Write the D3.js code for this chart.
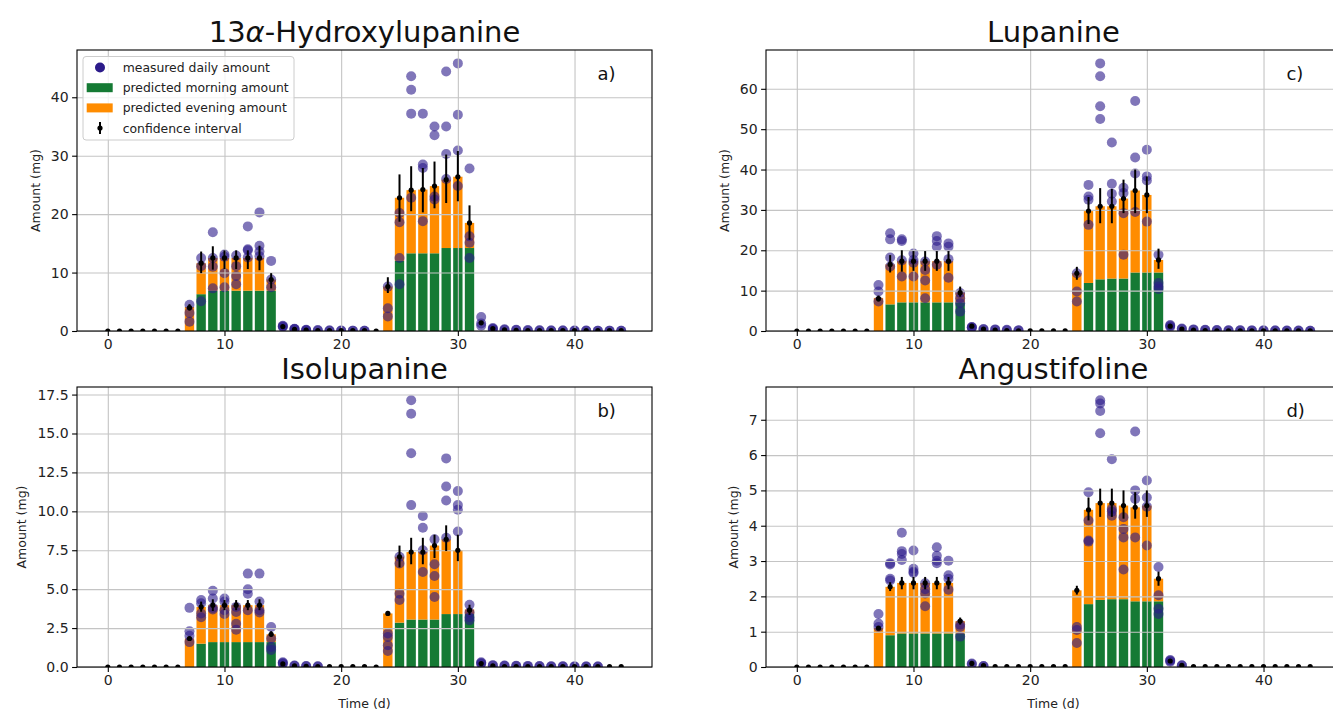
<!DOCTYPE html>
<html>
<head>
<meta charset="utf-8">
<script src="https://cdn.jsdelivr.net/npm/d3@7"></script>
<style>
body { margin: 0; background: #fff; }
text { font-family: "DejaVu Sans", sans-serif; }
</style>
</head>
<body>
<svg width="1333" height="713"></svg>
<script>
var days = d3.range(45);
var xTicks = [0, 10, 20, 30, 40];
var legendLabels = ["measured daily amount", "predicted morning amount", "predicted evening amount", "confidence interval"];

// 13a-Hydroxylupanine
var morningA = [0,0,0,0,0,0,0,0,6.3,6.9,6.9,6.9,6.9,6.9,6.9,0,0,0,0,0,0,0,0,0,0,12.0,13.3,13.3,13.3,14.2,14.2,14.2,0,0,0,0,0,0,0,0,0,0,0,0,0];
var eveningA = [0,0,0,0,0,0,0,4.1,5.3,5.6,5.6,5.6,5.6,5.6,1.9,0,0,0,0,0,0,0,0,0,7.6,10.8,10.8,10.9,11.5,11.7,12.2,4.3,0,0,0,0,0,0,0,0,0,0,0,0,0];
var predA = [0,0,0,0,0,0,0,4.0,11.6,12.5,12.5,12.5,12.5,12.5,8.8,0.75,0.3,0.15,0.08,0.05,0.05,0.05,0.05,0,7.6,22.8,24.1,24.2,24.8,25.9,26.4,18.5,1.4,0.4,0.2,0.1,0.05,0.05,0.05,0.05,0.05,0.05,0.05,0.05,0.05];
var ciA = [[7,3.5,4.6],[8,9.9,13.6],[9,10.5,14.5],[10,10.6,13.8],[11,10.6,13.8],[12,10.6,13.8],[13,10.4,14.6],[14,7.3,9.9],[24,6.5,9.2],[25,18.7,26.8],[26,20.5,28.2],[27,20.3,27.9],[28,21.0,29.0],[29,21.9,30.2],[30,22.2,30.8],[31,15.6,21.5]];
var measA = [[7,[4.5,3.1,1.6]],[8,[12.5,11.1,5.1]],[9,[16.9,12.5,11.0,7.3]],[10,[13.1,12.7,9.9,7.5]],[11,[12.9,11.1,9.4,8.0]],[12,[17.9,14.0,13.8,12.6]],[13,[20.3,14.6,13.6,12.8]],[14,[12.0,8.8,7.5]],
	[15,[0.9,0.8,0.7]],[16,[0.4,0.35,0.3]],[17,[0.2,0.15,0.1]],[18,[0.15,0.1]],[19,[0.1,0.08]],[20,[0.08,0.06]],[21,[0.06,0.05]],[22,[0.05,0.04]],
	[24,[7.6,3.9,2.5]],[25,[20.2,18.6,12.5,8.0]],[26,[43.6,41.3,37.2,22.8]],[27,[37.2,28.5,27.9,18.8]],[28,[35.0,33.5,23.0,22.5]],[29,[44.4,35.0,30.3,26.0]],[30,[45.8,37.0,30.9,24.8]],[31,[27.8,16.2,15.1,12.5]],
	[32,[2.4,1.3,0.9]],[33,[0.5,0.4,0.3]],[34,[0.3,0.2]],[35,[0.2,0.15]],[36,[0.15,0.1]],[37,[0.12,0.1]],[38,[0.1,0.08]],[39,[0.1,0.08]],[40,[0.08,0.06]],[41,[0.08,0.06]],[42,[0.06,0.05]],[43,[0.06,0.05]],[44,[0.05,0.04]]];

// Isolupanine
var morningB = [0,0,0,0,0,0,0,0,1.5,1.6,1.6,1.6,1.6,1.6,1.6,0,0,0,0,0,0,0,0,0,0,2.85,3.05,3.05,3.05,3.4,3.4,3.4,0,0,0,0,0,0,0,0,0,0,0,0,0];
var eveningB = [0,0,0,0,0,0,0,1.83,2.36,2.37,2.37,2.37,2.37,2.37,0.5,0,0,0,0,0,0,0,0,0,3.44,4.23,4.33,4.33,4.75,4.8,4.1,0.3,0,0,0,0,0,0,0,0,0,0,0,0,0];
var predB = [0,0,0,0,0,0,0,1.83,3.86,3.97,3.97,3.97,3.97,3.97,2.1,0.2,0.08,0.04,0.02,0.02,0.02,0.02,0.02,0,3.44,7.08,7.38,7.38,7.8,8.2,7.5,3.65,0.22,0.08,0.03,0.03,0.03,0.03,0.03,0.03,0.03,0.03,0.03,0.03,0.03];
var ciB = [[7,1.7,1.95],[8,3.55,4.2],[9,3.6,4.35],[10,3.65,4.3],[11,3.65,4.3],[12,3.65,4.3],[13,3.65,4.35],[14,1.95,2.3],[24,3.3,3.6],[25,6.4,7.8],[26,6.6,8.3],[27,6.6,8.3],[28,7.0,8.5],[29,7.45,9.1],[30,6.8,8.5],[31,3.35,4.0]];
var measB = [[7,[3.8,2.3,2.0,1.6]],[8,[4.3,4.1,3.44,3.2]],[9,[4.9,4.4,3.8,3.7]],[10,[4.4,4.2,3.65,3.4]],[11,[3.86,3.54,2.78,2.4]],[12,[6.0,5.0,4.7,3.65]],[13,[6.0,4.2,3.65,3.5]],[14,[2.57,1.83,1.29,1.1]],
	[15,[0.3,0.25,0.2]],[16,[0.1,0.08]],[17,[0.06,0.05]],[18,[0.05,0.03]],
	[24,[2.15,1.93,1.4,1.03]],[25,[7.08,6.65,4.7,4.3]],[26,[17.13,16.27,13.73,10.4]],[27,[9.7,8.95,7.5,6.1]],[28,[8.2,6.6,5.85,4.5]],[29,[13.4,11.6,10.7,8.3]],[30,[11.3,10.4,10.1,8.7]],[31,[4.0,3.5,3.2,3.0]],
	[32,[0.3,0.25,0.2]],[33,[0.12,0.1]],[34,[0.1,0.08]],[35,[0.08,0.06]],[36,[0.07,0.05]],[37,[0.06,0.05]],[38,[0.05,0.04]],[39,[0.05,0.04]],[40,[0.04,0.03]],[41,[0.04,0.03]],[42,[0.03,0.03]]];

// Lupanine
var morningC = [0,0,0,0,0,0,0,0,6.6,7.1,7.1,7.1,7.1,7.1,7.1,0,0,0,0,0,0,0,0,0,0,11.9,12.8,13.0,13.0,14.5,14.5,14.5,0,0,0,0,0,0,0,0,0,0,0,0,0];
var eveningC = [0,0,0,0,0,0,0,8.2,9.9,10.2,10.2,10.2,10.2,10.2,2.4,0,0,0,0,0,0,0,0,0,14.3,17.8,18.1,17.9,19.8,20.3,19.2,3.1,0,0,0,0,0,0,0,0,0,0,0,0,0];
var predC = [0,0,0,0,0,0,0,8.0,16.5,17.3,17.3,17.3,17.3,17.3,9.5,1.2,0.5,0.25,0.12,0.06,0.03,0.03,0.03,0.03,14.3,29.7,30.9,30.9,32.8,34.8,33.7,17.6,1.2,0.5,0.25,0.12,0.05,0.05,0.05,0.05,0.05,0.05,0.05,0.05,0.05];
var ciC = [[7,7.3,8.8],[8,14.5,18.8],[9,14.7,20.0],[10,14.9,19.8],[11,14.9,19.8],[12,14.9,19.8],[13,14.9,19.8],[14,8.5,11.0],[24,12.7,15.9],[25,26.5,33.2],[26,26.7,35.4],[27,26.7,35.2],[28,29.2,37.5],[29,29.2,40.0],[30,29.2,38.3],[31,15.4,20.4]];
var measC = [[7,[11.4,9.8,7.3]],[8,[24.2,22.7,18.2,16.0]],[9,[22.7,22.3,17.5,13.5]],[10,[19.2,17.6,16.9,13.5]],[11,[17.2,15.1,12.5,8.1]],[12,[23.5,22.3,20.9,16.4]],[13,[21.7,20.9,17.8,13.2]],[14,[9.4,8.1,6.9,4.8]],
	[15,[1.0,0.9,0.8]],[16,[0.5,0.4]],[17,[0.4,0.3]],[18,[0.3,0.2]],[19,[0.2,0.15]],
	[24,[14.3,9.8,7.3]],[25,[36.2,33.3,32.5,26.3]],[26,[66.3,63.1,55.7,52.5]],[27,[46.7,36.5,34.0,32.1]],[28,[35.5,34.2,29.2,18.9]],[29,[57.0,43.0,39.0,29.5]],[30,[44.9,38.3,37.3,27.1]],[31,[18.9,11.9,11.0,10.4]],
	[32,[1.5,1.3,1.0]],[33,[0.6,0.5]],[34,[0.4,0.3]],[35,[0.3,0.25]],[36,[0.25,0.2]],[37,[0.2,0.15]],[38,[0.2,0.15]],[39,[0.15,0.1]],[40,[0.15,0.1]],[41,[0.1,0.1]],[42,[0.1,0.08]],[43,[0.1,0.08]],[44,[0.08,0.05]]];

// Angustifoline
var morningD = [0,0,0,0,0,0,0,0,0.9,0.95,0.95,0.95,0.95,0.95,0.95,0,0,0,0,0,0,0,0,0,0,1.78,1.9,1.92,1.92,1.86,1.86,1.86,0,0,0,0,0,0,0,0,0,0,0,0,0];
var eveningD = [0,0,0,0,0,0,0,1.1,1.37,1.43,1.43,1.43,1.43,1.43,0.35,0,0,0,0,0,0,0,0,0,2.17,2.67,2.74,2.72,2.65,2.66,2.71,0.64,0,0,0,0,0,0,0,0,0,0,0,0,0];
var predD = [0,0,0,0,0,0,0,1.1,2.27,2.38,2.38,2.38,2.38,2.38,1.3,0.1,0.04,0.01,0.01,0.01,0.01,0.01,0.01,0.01,2.17,4.45,4.64,4.64,4.57,4.52,4.57,2.5,0.17,0.05,0.01,0.01,0.01,0.01,0.01,0.01,0.01,0.01,0.01,0.01,0.01];
var ciD = [[7,1.05,1.15],[8,2.15,2.4],[9,2.2,2.55],[10,2.2,2.55],[11,2.2,2.55],[12,2.2,2.55],[13,2.2,2.55],[14,1.2,1.4],[24,2.05,2.3],[25,4.15,4.8],[26,4.25,5.05],[27,4.25,5.05],[28,4.2,5.0],[29,4.2,4.95],[30,4.25,5.0],[31,2.3,2.7]];
var measD = [[7,[1.5,1.23,1.13]],[8,[2.94,2.9,2.5,2.45]],[9,[3.8,3.28,3.2,3.03]],[10,[3.3,2.78,2.7,2.66]],[11,[2.37,2.2,2.08,1.72]],[12,[3.39,3.15,3.01,2.94]],[13,[3.01,2.6,2.5,2.19]],[14,[1.2,1.13,0.86]],
	[15,[0.1,0.08]],[16,[0.03,0.02]],
	[24,[1.13,1.05,0.68]],[25,[4.95,4.15,3.58,3.55]],[26,[7.55,7.46,7.25,6.62]],[27,[5.88,4.47,4.4,4.28]],[28,[4.24,3.91,3.67,2.76]],[29,[6.67,5.0,4.76,3.67]],[30,[5.28,4.8,4.54,3.44]],[31,[2.83,2.03,1.65,1.5]],
	[32,[0.2,0.18,0.15]],[33,[0.05,0.04]]];

var green = "#157a34", orange = "#ff8c00", purple = "#2c1b8a";

var svg = d3.select("svg");

var panels = [
	{ title: ["13", "α", "-Hydroxylupanine"], letter: "a)", morning: morningA, evening: eveningA, pred: predA, ci: ciA, meas: measA,
		yTicks: [0, 10, 20, 30, 40], fmt: d3.format("d"), left: 77, right: 652, top: 50, bottom: 331, legend: true },
	{ title: ["Isolupanine"], letter: "b)", morning: morningB, evening: eveningB, pred: predB, ci: ciB, meas: measB,
		yTicks: [0, 2.5, 5, 7.5, 10, 12.5, 15, 17.5], fmt: d3.format(".1f"), left: 77, right: 652, top: 387, bottom: 667, xlabel: true },
	{ title: ["Lupanine"], letter: "c)", morning: morningC, evening: eveningC, pred: predC, ci: ciC, meas: measC,
		yTicks: [0, 10, 20, 30, 40, 50, 60], fmt: d3.format("d"), left: 766, right: 1341, top: 50, bottom: 331 },
	{ title: ["Angustifoline"], letter: "d)", morning: morningD, evening: eveningD, pred: predD, ci: ciD, meas: measD,
		yTicks: [0, 1, 2, 3, 4, 5, 6, 7], fmt: d3.format("d"), left: 766, right: 1341, top: 387, bottom: 667, xlabel: true }
];

panels.forEach(function(p, i) {
	var w = p.right - p.left, h = p.bottom - p.top;

	// flatten measured points
	var pts = [];
	p.meas.forEach(function(m) {
		m[1].forEach(function(v) { pts.push({ day: m[0], v: v }); });
	});

	var x = d3.scaleLinear().domain([-2.64, 46.64]).range([p.left, p.right]);
	var yMax = d3.max([d3.max(pts, function(d) { return d.v; }), d3.max(p.ci, function(d) { return d[2]; })]) * 1.05;
	var y = d3.scaleLinear().domain([0, yMax]).range([p.bottom, p.top]);

	svg.append("clipPath").attr("id", "clip" + i)
		.append("rect").attr("x", p.left).attr("y", p.top).attr("width", w).attr("height", h);

	var g = svg.append("g");
	var plot = g.append("g").attr("clip-path", "url(#clip" + i + ")");
	var bw = x(0.8) - x(0);

	// morning bars
	plot.selectAll(".morning")
		.data(days.filter(function(d) { return p.morning[d] > 0; }))
		.join("rect")
		.attr("x", function(d) { return x(d - 0.4); })
		.attr("width", bw)
		.attr("y", function(d) { return y(p.morning[d]); })
		.attr("height", function(d) { return y(0) - y(p.morning[d]); })
		.attr("fill", green);

	// evening bars stacked on top
	plot.selectAll(".evening")
		.data(days.filter(function(d) { return p.evening[d] > 0; }))
		.join("rect")
		.attr("x", function(d) { return x(d - 0.4); })
		.attr("width", bw)
		.attr("y", function(d) { return y(p.morning[d] + p.evening[d]); })
		.attr("height", function(d) { return y(p.morning[d]) - y(p.morning[d] + p.evening[d]); })
		.attr("fill", orange);

	// measured circles
	plot.selectAll(".meas")
		.data(pts)
		.join("circle")
		.attr("cx", function(d) { return x(d.day); })
		.attr("cy", function(d) { return y(d.v); })
		.attr("r", 5)
		.attr("fill", purple)
		.attr("fill-opacity", 0.6);

	// grid
	var gx = g.append("g")
		.attr("transform", "translate(0," + p.bottom + ")")
		.call(d3.axisBottom(x).tickValues(xTicks).tickSize(-h).tickFormat(""));
	var gy = g.append("g")
		.attr("transform", "translate(" + p.left + ",0)")
		.call(d3.axisLeft(y).tickValues(p.yTicks).tickSize(-w).tickFormat(""));
	[gx, gy].forEach(function(s) {
		s.select(".domain").remove();
		s.selectAll("line").attr("stroke", "#c4c4c4").attr("stroke-width", 1.1);
	});

	// confidence intervals and predicted points
	var eb = g.append("g").attr("clip-path", "url(#clip" + i + ")");
	eb.selectAll(".ci")
		.data(p.ci)
		.join("line")
		.attr("x1", function(d) { return x(d[0]); })
		.attr("x2", function(d) { return x(d[0]); })
		.attr("y1", function(d) { return y(d[1]); })
		.attr("y2", function(d) { return y(d[2]); })
		.attr("stroke", "#000")
		.attr("stroke-width", 2);
	eb.selectAll(".pred")
		.data(days)
		.join("circle")
		.attr("cx", function(d) { return x(d); })
		.attr("cy", function(d) { return y(p.pred[d]); })
		.attr("r", 2.6)
		.attr("fill", "#000");

	// axes
	var ax = g.append("g")
		.attr("transform", "translate(0," + p.bottom + ")")
		.call(d3.axisBottom(x).tickValues(xTicks).tickSize(4.9).tickPadding(3.5));
	var ay = g.append("g")
		.attr("transform", "translate(" + p.left + ",0)")
		.call(d3.axisLeft(y).tickValues(p.yTicks).tickFormat(p.fmt).tickSize(4.9).tickPadding(3.5));
	[ax, ay].forEach(function(s) {
		s.select(".domain").remove();
		s.selectAll("line").attr("stroke", "#000").attr("stroke-width", 1.1);
		s.selectAll("text").attr("font-size", 14).attr("fill", "#222").attr("font-family", "DejaVu Sans");
	});

	g.append("rect")
		.attr("x", p.left).attr("y", p.top).attr("width", w).attr("height", h)
		.attr("fill", "none").attr("stroke", "#000").attr("stroke-width", 1.1);

	// title
	var t = g.append("text")
		.attr("x", p.left + w / 2)
		.attr("y", p.top - 8.5)
		.attr("text-anchor", "middle")
		.attr("font-size", 29)
		.attr("fill", "#111");
	p.title.forEach(function(s) {
		t.append("tspan").attr("font-style", s === "α" ? "italic" : null).text(s);
	});

	// panel letter
	g.append("text")
		.attr("x", p.left + 0.905 * w)
		.attr("y", p.top + 0.1 * h + 2)
		.attr("font-size", 18)
		.attr("fill", "#111")
		.text(p.letter);

	// y label, left of the tick labels (bbox is in the axis group's own coords)
	var tickLeft = p.left + ay.node().getBBox().x;
	g.append("text")
		.attr("transform", "translate(" + (tickLeft - 11) + "," + (p.top + h / 2) + ") rotate(-90)")
		.attr("text-anchor", "middle")
		.attr("font-size", 12.5)
		.attr("fill", "#222")
		.text("Amount (mg)");

	if (p.xlabel) {
		g.append("text")
			.attr("x", p.left + w / 2)
			.attr("y", p.bottom + 41)
			.attr("text-anchor", "middle")
			.attr("font-size", 12.5)
			.attr("fill", "#222")
			.text("Time (d)");
	}

	if (p.legend) {
		var lg = g.append("g");
		lg.append("rect")
			.attr("x", p.left + 6).attr("y", p.top + 6.5).attr("width", 211).attr("height", 83.5)
			.attr("rx", 3).attr("fill", "#fff").attr("fill-opacity", 0.8)
			.attr("stroke", "#ccc").attr("stroke-width", 1);
		var rows = legendLabels.map(function(l, k) { return { label: l, cy: p.top + 17.5 + k * 20.2, k: k }; });
		rows.forEach(function(r) {
			if (r.k === 0) {
				lg.append("circle").attr("cx", p.left + 23).attr("cy", r.cy).attr("r", 5).attr("fill", purple);
			} else if (r.k === 3) {
				lg.append("line").attr("x1", p.left + 23).attr("x2", p.left + 23)
					.attr("y1", r.cy - 6).attr("y2", r.cy + 6).attr("stroke", "#000").attr("stroke-width", 2);
				lg.append("circle").attr("cx", p.left + 23).attr("cy", r.cy).attr("r", 2.6).attr("fill", "#000");
			} else {
				lg.append("rect").attr("x", p.left + 9.7).attr("y", r.cy - 4.5).attr("width", 26).attr("height", 9)
					.attr("fill", r.k === 1 ? green : orange);
			}
			lg.append("text")
				.attr("x", p.left + 45.7)
				.attr("y", r.cy + 4.4)
				.attr("font-size", 12.4)
				.attr("fill", "#222")
				.text(r.label);
		});
	}
});
</script>
</body>
</html>
